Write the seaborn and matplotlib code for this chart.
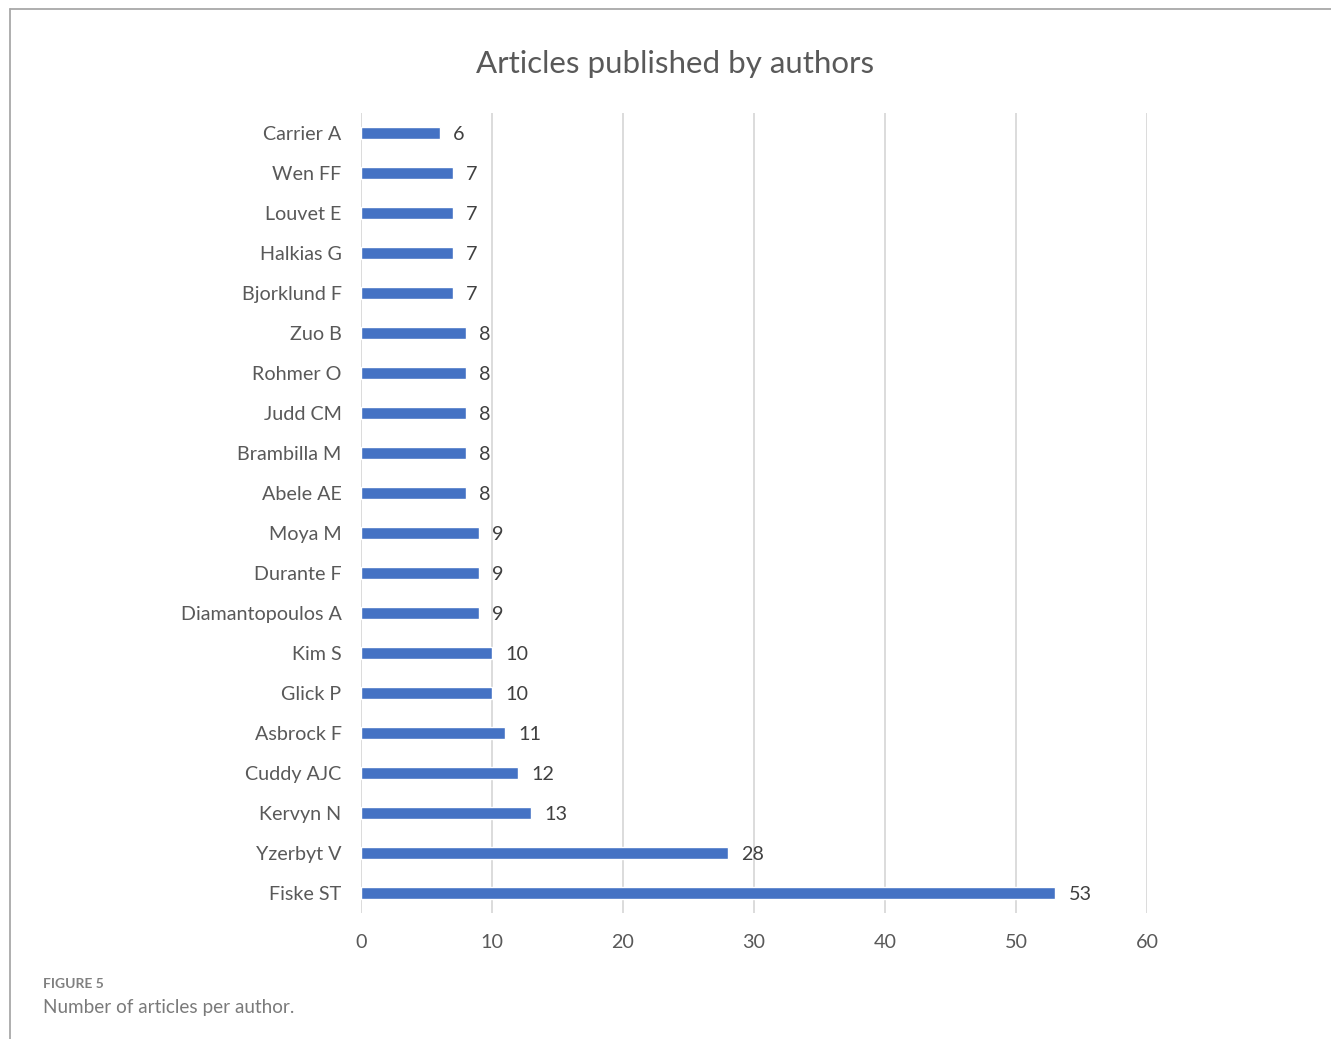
import matplotlib
matplotlib.use("Agg")
import matplotlib.pyplot as plt
from matplotlib.lines import Line2D
import seaborn as sns
import pandas as pd

authors = ["Carrier A", "Wen FF", "Louvet E", "Halkias G", "Bjorklund F",
           "Zuo B", "Rohmer O", "Judd CM", "Brambilla M", "Abele AE",
           "Moya M", "Durante F", "Diamantopoulos A", "Kim S", "Glick P",
           "Asbrock F", "Cuddy AJC", "Kervyn N", "Yzerbyt V", "Fiske ST"]
articles = [6, 7, 7, 7, 7, 8, 8, 8, 8, 8, 9, 9, 9, 10, 10, 11, 12, 13, 28, 53]
x_ticks = [0, 10, 20, 30, 40, 50, 60]

df = pd.DataFrame({"author": authors, "articles": articles})

sns.set_theme(style="white")
plt.rcParams['font.family'] = ['Lato', 'DejaVu Sans']

W, H = 1331, 1039
fig = plt.figure(figsize=(W / 100, H / 100), dpi=100)
ax = fig.add_axes([361 / W, 1 - 913 / H, (1147 - 361) / W, (913 - 113) / H])

sns.barplot(data=df, x="articles", y="author", order=authors, orient="h",
            color="#4472C4", saturation=1, width=0.32, ax=ax, zorder=3)

ax.set_xlim(0, 60)
ax.set_ylim(len(authors) - 0.5, -0.5)
ax.set_xticks(x_ticks)
ax.set_xticklabels([str(t) for t in x_ticks])
ax.grid(axis="x", color="#D9D9D9", linewidth=1.3, zorder=0)
ax.grid(axis="y", visible=False)
for s in ax.spines.values():
    s.set_visible(False)
ax.set_xlabel("")
ax.set_ylabel("")
ax.tick_params(axis="y", length=0, pad=14, labelsize=14.2, labelcolor="#595959")
ax.tick_params(axis="x", length=0, pad=15, labelsize=14.2, labelcolor="#595959")

for i, v in enumerate(articles):
    ax.text(v + 1.0, i + 0.05, str(v), va="center", ha="left",
            fontsize=14.2, color="#404040")

fig.text(675 / W, 1 - 64 / H, "Articles published by authors", ha="center",
         va="center", fontsize=22.5, color="#595959")

fig.text(43 / W, 1 - 984 / H, "FIGURE 5", ha="left", va="center",
         fontsize=10, color="#808080", fontweight="bold")
fig.text(43 / W, 1 - 1007 / H, "Number of articles per author.", ha="left",
         va="center", fontsize=13.6, color="#7a7a7a")

fig.add_artist(Line2D([10 / W, 1], [1 - 9 / H, 1 - 9 / H], color="#A8A8A8",
                      linewidth=1.3, transform=fig.transFigure))
fig.add_artist(Line2D([10 / W, 10 / W], [0, 1 - 9 / H], color="#A8A8A8",
                      linewidth=1.3, transform=fig.transFigure))

fig.savefig("out.png", dpi=100)
